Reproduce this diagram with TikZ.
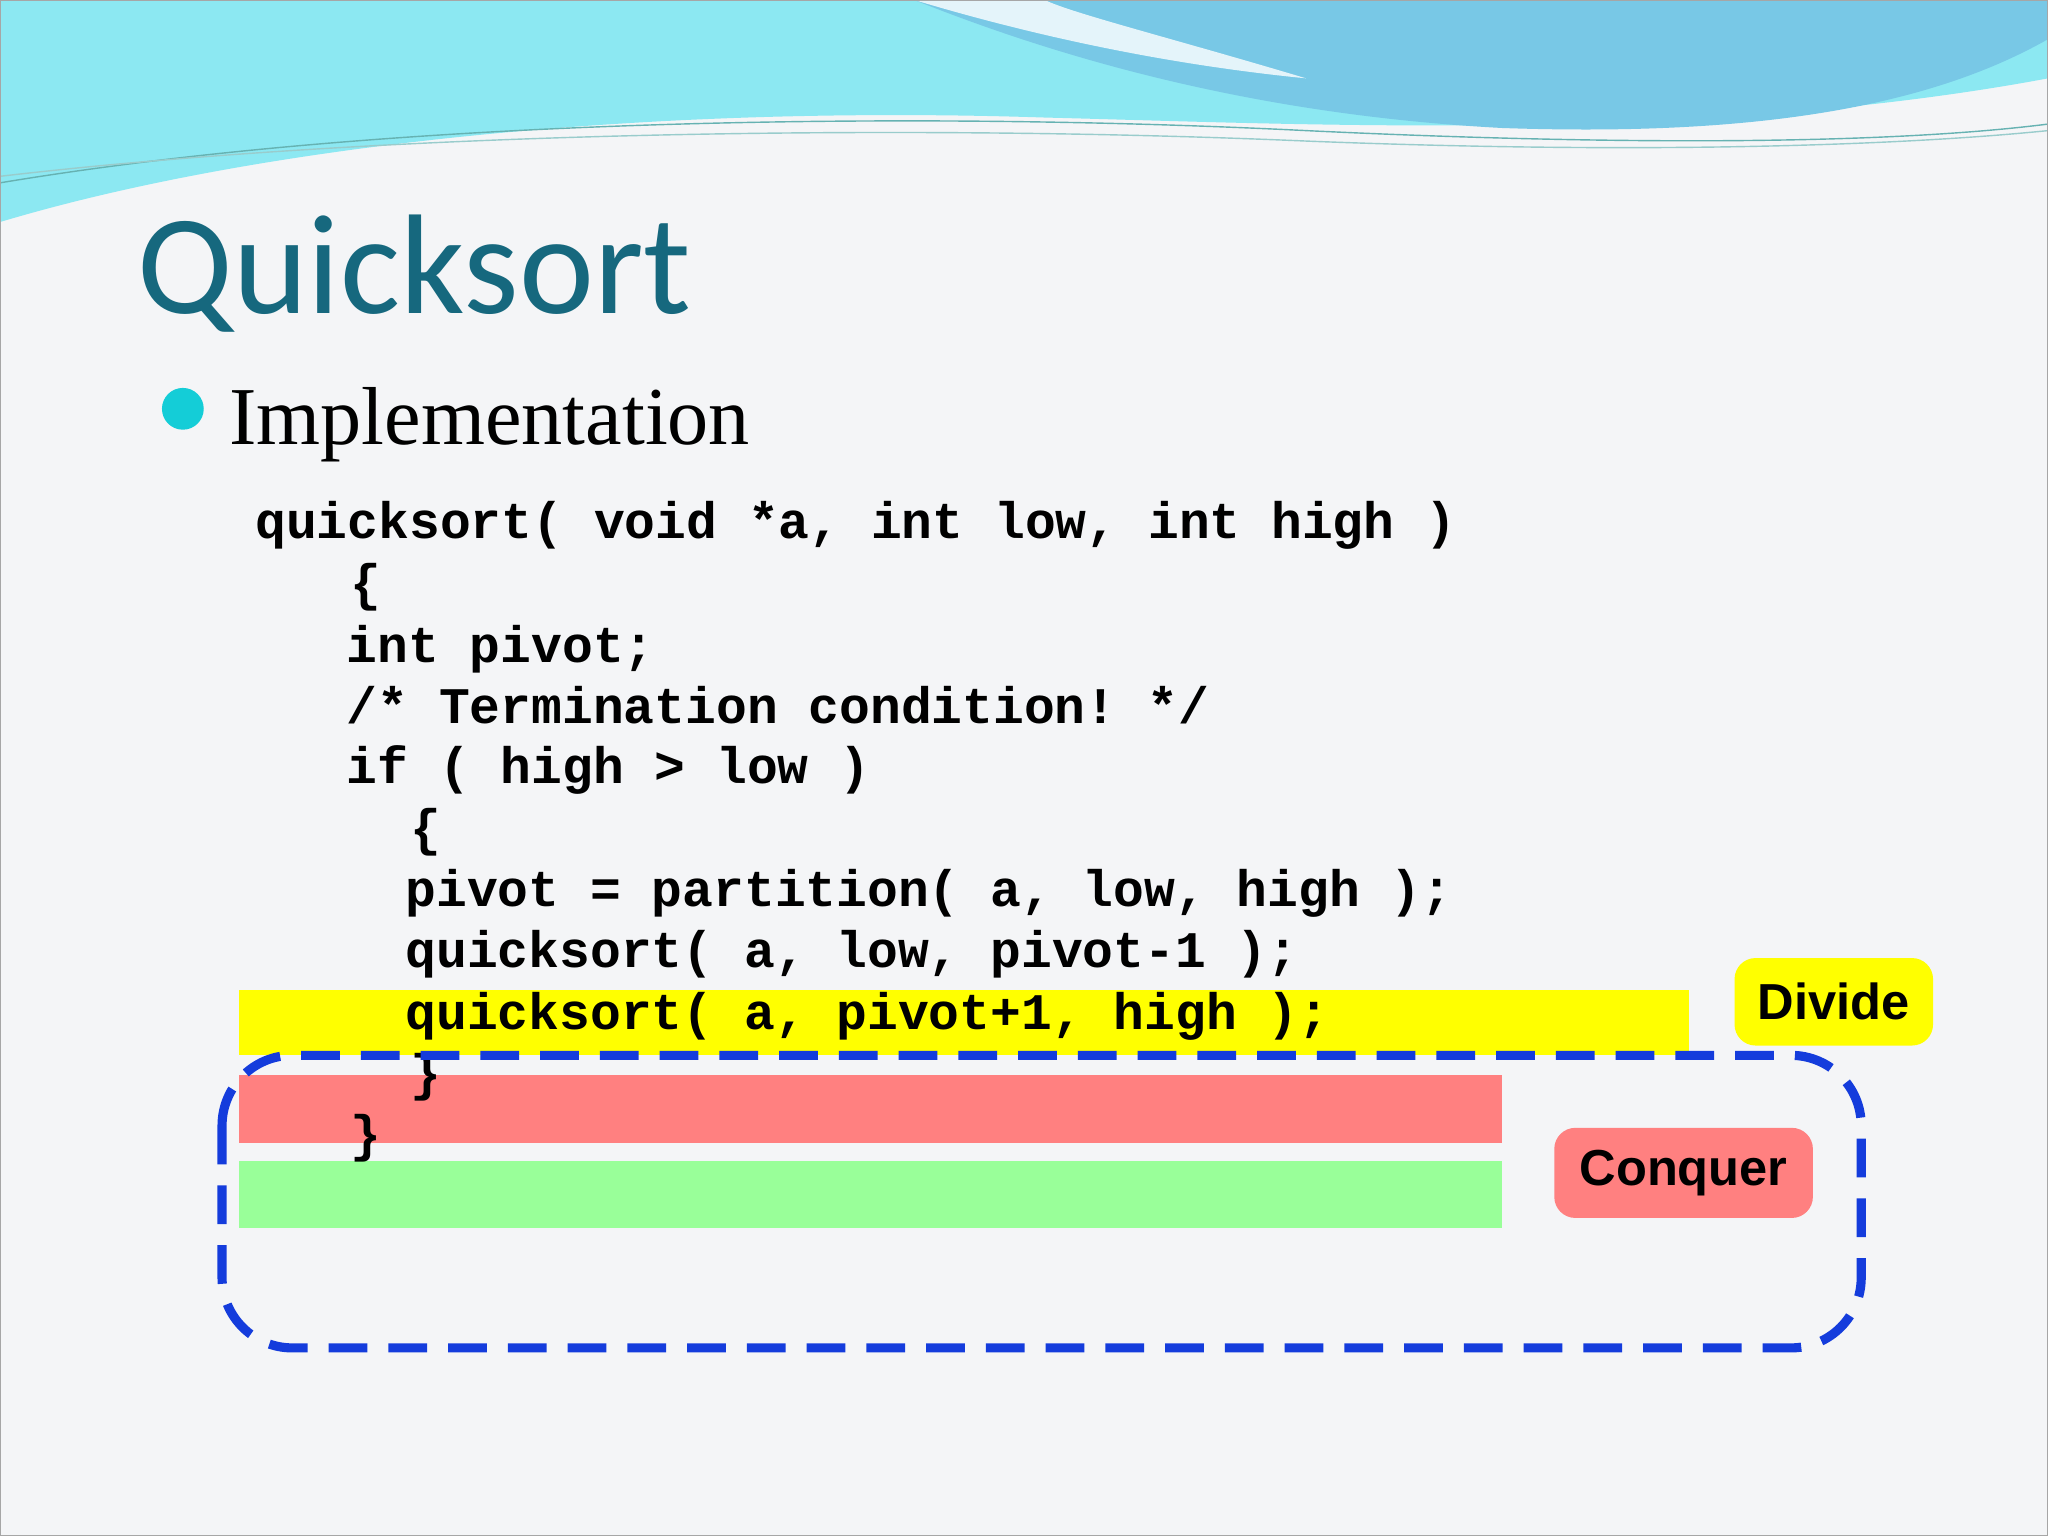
\documentclass[tikz,border=0pt]{standalone}
\usepackage{fontspec}
\setmainfont{Liberation Serif}
\setsansfont{Liberation Sans}
\setmonofont{Liberation Mono}
\newfontfamily\titlefont{Carlito}
\definecolor{slidebg}{RGB}{244,245,247}
\definecolor{titleteal}{RGB}{22,104,126}
\definecolor{bulletcyan}{RGB}{20,205,215}
\definecolor{bandyellow}{RGB}{255,255,0}
\definecolor{bandred}{RGB}{255,128,128}
\definecolor{bandgreen}{RGB}{153,255,153}
\definecolor{dashblue}{RGB}{20,60,220}
\definecolor{wavecyan}{RGB}{140,232,242}
\definecolor{waveblue}{RGB}{120,200,230}
\tikzset{%
    codeline/.style={anchor=base west, inner sep=0pt, font=\ttfamily\bfseries\fontsize{14.6}{16}\selectfont},
    tagbox/.style={rounded corners=6pt, font=\sffamily\bfseries\fontsize{14.4}{16}\selectfont, inner sep=0pt}
}
\begin{document}
\begin{tikzpicture}[x=0.01306cm,y=-0.01306cm]
    \useasboundingbox (0,0) rectangle (1568,1176);
    \fill[slidebg] (0,0) rectangle (1568,1176);
    % top wave
    \fill[wavecyan] (0,0)--(0,170) .. controls (200,110) and (500,80) .. (800,90) .. controls (1000,95) and (1300,110) .. (1568,60)--(1568,0)--cycle;
    \fill[waveblue] (700,0) .. controls (850,60) and (1000,90) .. (1150,98) .. controls (1350,105) and (1480,80) .. (1568,30)--(1568,0)--cycle;
    \fill[white,opacity=0.8] (700,0) .. controls (800,30) and (900,50) .. (1000,60) .. controls (900,30) and (820,10) .. (800,0)--cycle;
    \draw[teal!60,thin] (0,140) .. controls (300,90) and (700,85) .. (1000,100) .. controls (1250,112) and (1450,110) .. (1568,95);
    \draw[teal!40,thin] (0,135) .. controls (300,100) and (700,95) .. (1000,108) .. controls (1250,118) and (1450,112) .. (1568,100);
    \draw[gray!70] (0,0) rectangle (1568,1176);
    % title and bullet
    \node[anchor=base west, inner sep=0pt, text=titleteal, font=\titlefont\fontsize{40.4}{45}\selectfont] (title) at (105,240) {Quicksort};
    \fill[bulletcyan] (140,313) circle (16);
    \node[anchor=base west, inner sep=0pt, font=\fontsize{23.4}{27}\selectfont] (impl) at (175,340) {Implementation};
    % bands
    \fill[bandyellow] (183,758) rectangle (1293,808);
    \fill[bandred] (183,823) rectangle (1150,875);
    \fill[bandgreen] (183,889) rectangle (1150,940);
    % code
    \node[codeline] (l1) at (195,412) {quicksort( void *a, int low, int high )};
    \node[codeline] (l2) at (268,460) {\{};
    \node[codeline] (l3) at (265,507) {int pivot;};
    \node[codeline] (l4) at (265,554) {/* Termination condition! */};
    \node[codeline] (l5) at (265,600) {if ( high > low )};
    \node[codeline] (l6) at (314,647) {\{};
    \node[codeline] (l7) at (310,694) {pivot = partition( a, low, high );};
    \node[codeline] (l8) at (310,741) {quicksort( a, low, pivot-1 );};
    \node[codeline] (l9) at (310,788) {quicksort( a, pivot+1, high );};
    \node[codeline] (l10) at (314,835) {\}};
    \node[codeline] (l11) at (268,882) {\}};
    % dashed frame and tags
    \draw[dashblue, line width=2.6pt, dash pattern=on 11pt off 6pt, rounded corners=20pt] (170,808) rectangle (1425,1032);
    \node[tagbox, fill=bandyellow, minimum width=152*0.01306cm, minimum height=67*0.01306cm] (divide) at (1404,767) {Divide};
    \node[tagbox, fill=bandred, minimum width=198*0.01306cm, minimum height=69*0.01306cm] (conquer) at (1289,898) {Conquer};
\end{tikzpicture}
\end{document}
